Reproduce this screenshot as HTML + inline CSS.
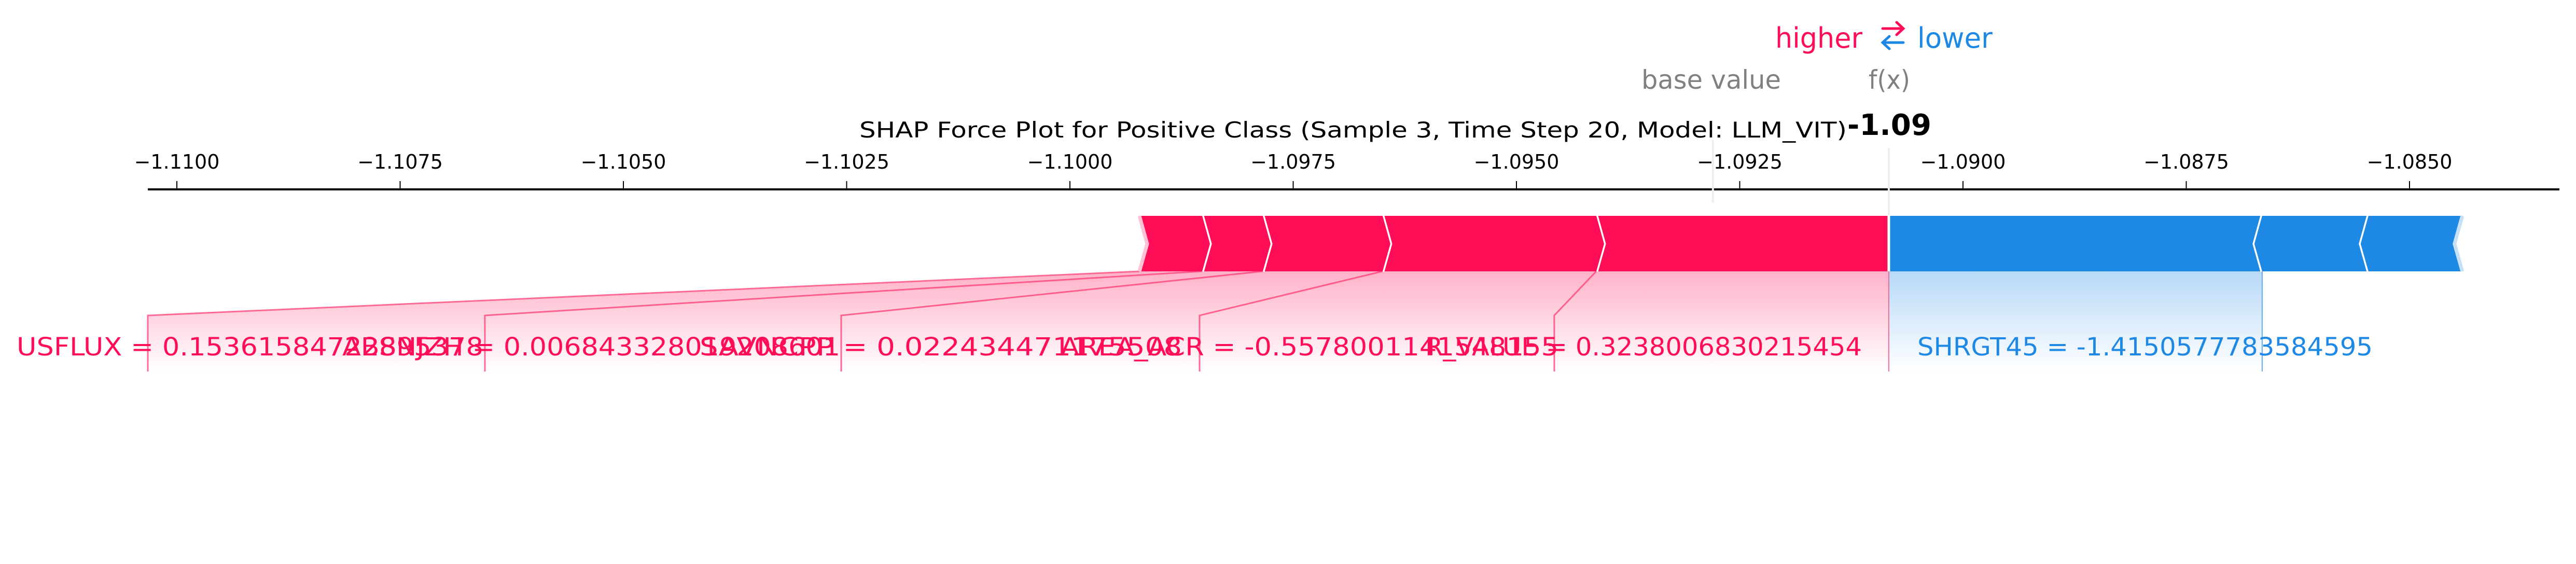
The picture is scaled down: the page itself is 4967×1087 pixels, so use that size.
<!DOCTYPE html>
<html><head><meta charset="utf-8"><style>
html,body{margin:0;padding:0;background:#fff;}
svg{display:block;font-family:"DejaVu Sans","Liberation Sans",sans-serif;}
</style></head><body>
<svg id="chart" width="4967" height="1087" viewBox="0 0 4967 1087" xmlns="http://www.w3.org/2000/svg">
<defs>
<linearGradient id="gRed" x1="0" y1="0" x2="0" y2="1"><stop offset="0" stop-color="#ff0d57" stop-opacity="0.32"/><stop offset="1" stop-color="#ff0d57" stop-opacity="0"/></linearGradient>
<linearGradient id="gBlue" x1="0" y1="0" x2="0" y2="1"><stop offset="0" stop-color="#1e88e5" stop-opacity="0.32"/><stop offset="1" stop-color="#1e88e5" stop-opacity="0"/></linearGradient>
</defs>
<g id="links"></g>
<g id="bars"></g>
<g id="axis"></g>
<text x="1657" y="265" font-size="42" fill="#000" textLength="1904" lengthAdjust="spacingAndGlyphs">SHAP Force Plot for Positive Class (Sample 3, Time Step 20, Model: LLM_VIT)</text>
<text x="3423" y="92" font-size="54" fill="#ff0d57" textLength="168" lengthAdjust="spacingAndGlyphs">higher</text>
<text x="3697" y="92" font-size="54" fill="#1e88e5" textLength="145" lengthAdjust="spacingAndGlyphs">lower</text>
<g stroke-width="5" fill="none" stroke-linecap="round">
<path d="M3630 55 L3670 55 M3657 43 L3670 55 L3657 67" stroke="#ff0d57"/>
<path d="M3670 82 L3630 82 M3643 70 L3630 82 L3643 94" stroke="#1e88e5"/>
</g>
<text x="3165" y="171" font-size="50" fill="#808080" textLength="269" lengthAdjust="spacingAndGlyphs">base value</text>
<text x="3603" y="171" font-size="50" fill="#808080" textLength="80" lengthAdjust="spacingAndGlyphs">f(x)</text>
<text id="fxval" x="3562" y="260" font-size="56" font-weight="bold" fill="#000" textLength="162" lengthAdjust="spacingAndGlyphs">-1.09</text>
<g id="labels"></g>
</svg>
<script>
const baseValue = -1.0928;
const redNames = ["R_VALUE", "AREA_ACR", "SAVNCPP", "ABSNJZH", "USFLUX"];
const redFeatureVals = ["0.3238006830215454", "-0.5578001141548155", "0.022434471175508", "0.006843328019208601", "0.15361584722895378"];
const redShap = [0.003275, 0.002393, 0.001341, 0.000679, 0.000703];
const blueNames = ["SHRGT45", "MEANGAM", "TOTUSJH"];
const blueFeatureVals = ["-1.4150577783584595", "", ""];
const blueShap = [0.004181, 0.00119, 0.001051];
const tickVals = [-1.11, -1.1075, -1.105, -1.1025, -1.1, -1.0975, -1.095, -1.0925, -1.09, -1.0875, -1.085];

const NS = "http://www.w3.org/2000/svg";
const X = v => 341 + (v + 1.11) * 172200;
function mk(tag, attrs, parent) {
  const e = document.createElementNS(NS, tag);
  for (const k in attrs) e.setAttribute(k, attrs[k]);
  parent.appendChild(e); return e;
}
const axisG = document.getElementById('axis');
const barsG = document.getElementById('bars');
const linksG = document.getElementById('links');
const labelsG = document.getElementById('labels');

const al = mk('line', {x1: 285, x2: 4935, y1: 365, y2: 365, stroke: '#000', 'stroke-width': 4}, axisG);


tickVals.forEach(v => {
  const t = mk('line', {x1: X(v), x2: X(v), y1: 349, y2: 364, stroke: '#000', 'stroke-width': 2}, axisG);
  
  
  const tl = mk('text', {x: X(v), y: 325, 'font-size': 38, 'text-anchor': 'middle', fill: '#000'}, axisG);
  
  
  tl.textContent = '\u2212' + Math.abs(v).toFixed(4);
});

const sumRed = redShap.reduce((a, b) => a + b, 0);
const sumBlue = blueShap.reduce((a, b) => a + b, 0);
const fx = baseValue + sumRed - sumBlue;
document.getElementById('fxval').textContent = fx.toFixed(2);
const fxPx = X(fx);

const bl = mk('line', {x1: X(baseValue), x2: X(baseValue), y1: 270, y2: 391, stroke: '#eeeeee', 'stroke-width': 4}, axisG);


const fl = mk('line', {x1: fxPx, x2: fxPx, y1: 285, y2: 415, stroke: '#eeeeee', 'stroke-width': 4}, axisG);



const barTop = 416, barBot = 523, barMid = 470, chev = 15, labY = 608, labBot = 716;
const redLabelEdges = [fxPx, 2997, 2313, 1622, 935, 285];
const redTextX = [2748, 2045, 1349, 660, 32];
const redTextW = [842, 960, 930, 960, 900];

let cur = fx;
redShap.forEach((s, i) => {
  const b = X(cur), a = X(cur - s);
  cur -= s;
  const la = redLabelEdges[i + 1], lb = redLabelEdges[i];
  const reg = mk('polygon', {points: `${a},${barBot} ${b},${barBot} ${lb},${labY} ${lb},${labBot} ${la},${labBot} ${la},${labY}`, fill: 'url(#gRed)'}, linksG);
  
  
  const ln = mk('polyline', {points: `${a},${barBot} ${la},${labY} ${la},${labBot}`, fill: 'none', stroke: '#ff6a95', 'stroke-width': 3}, linksG);
  
  
  const seg = mk('polygon', {points: `${a},${barTop} ${b},${barTop} ${b + (i === 0 ? 0 : chev)},${barMid} ${b},${barBot} ${a},${barBot} ${a + chev},${barMid}`, fill: '#ff0d57'}, barsG);
  
  
  const sep = mk('polyline', {points: `${a},${barTop} ${a + chev},${barMid} ${a},${barBot}`, fill: 'none', stroke: i === redShap.length - 1 ? '#ffc3d5' : '#fff', 'stroke-width': 7}, barsG);
  
  
  const tx = mk('text', {x: redTextX[i], y: 685, 'font-size': 48, fill: '#ff0d57', textLength: redTextW[i], lengthAdjust: 'spacingAndGlyphs'}, labelsG);
  
  
  tx.textContent = redNames[i] + ' = ' + redFeatureVals[i];
});
const fxl = mk('line', {x1: fxPx, x2: fxPx, y1: barBot, y2: labBot, stroke: '#ff6a95', 'stroke-width': 2}, linksG);



cur = fx;
blueShap.forEach((s, i) => {
  const a = X(cur), b = X(cur + s);
  cur += s;
  if (i === 0) {
    const reg = mk('polygon', {points: `${a},${barBot} ${b},${barBot} ${b},${labY} ${b},${labBot} ${a},${labBot} ${a},${labY}`, fill: 'url(#gBlue)'}, linksG);
    
    
    const ln = mk('line', {x1: b, x2: b, y1: barBot, y2: labBot, stroke: '#64aaee', 'stroke-width': 2}, linksG);
    
    
    const tx = mk('text', {x: 3697, y: 685, 'font-size': 48, fill: '#1e88e5', textLength: 878, lengthAdjust: 'spacingAndGlyphs'}, labelsG);
    
    
    tx.textContent = blueNames[i] + ' = ' + blueFeatureVals[i];
  }
  const seg = mk('polygon', {points: `${a},${barTop} ${b},${barTop} ${b - chev},${barMid} ${b},${barBot} ${a},${barBot} ${a - (i === 0 ? 0 : chev)},${barMid}`, fill: '#1e88e5'}, barsG);
  
  
  const sep = mk('polyline', {points: `${b},${barTop} ${b - chev},${barMid} ${b},${barBot}`, fill: 'none', stroke: i === blueShap.length - 1 ? '#c6e0f8' : '#fff', 'stroke-width': 7}, barsG);
  
  
});
const gap = mk('line', {x1: fxPx, x2: fxPx, y1: barTop, y2: barBot, stroke: '#fff', 'stroke-width': 5}, barsG);


</script>
</body></html>
